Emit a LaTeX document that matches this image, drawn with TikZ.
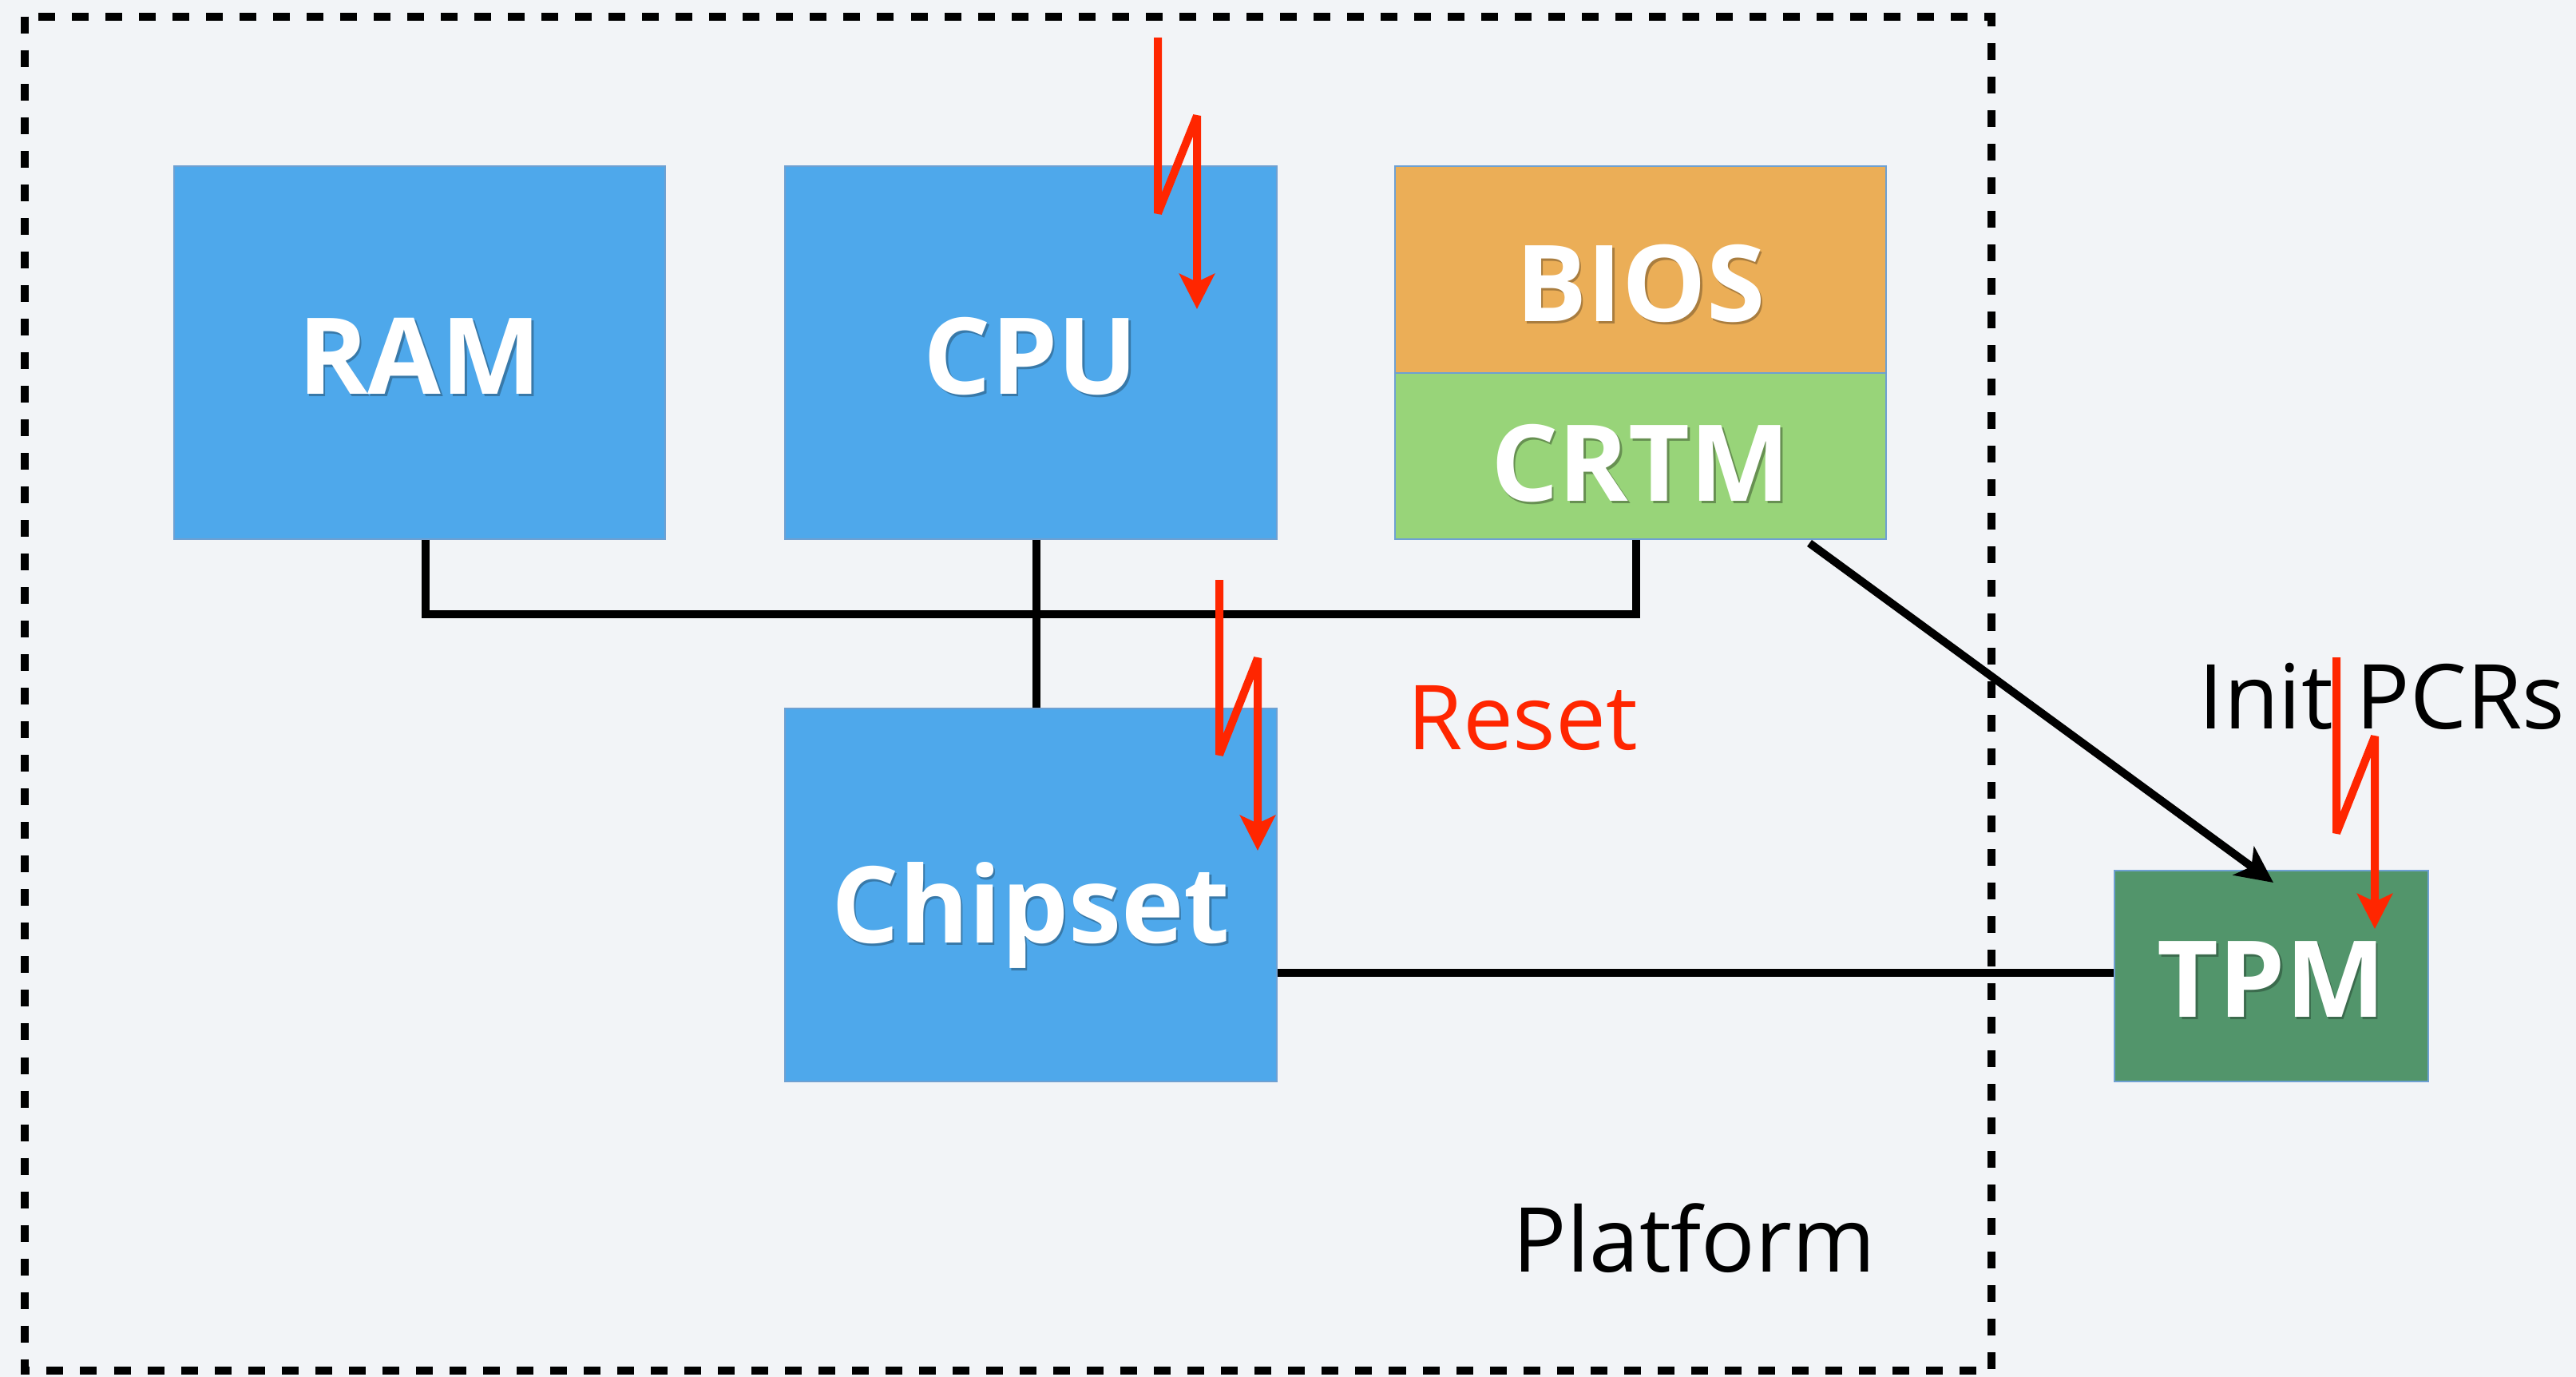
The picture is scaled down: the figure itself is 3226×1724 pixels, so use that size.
\documentclass[tikz,border=0pt]{standalone}
\usepackage{fontspec}
\setmainfont{Open Sans}
\usetikzlibrary{arrows.meta,calc}
\definecolor{bgc}{RGB}{242,244,247}
\definecolor{boxblue}{RGB}{78,168,235}
\definecolor{biosor}{RGB}{235,174,87}
\definecolor{crtmgr}{RGB}{152,212,121}
\definecolor{tpmgr}{RGB}{82,149,107}
\definecolor{boltred}{RGB}{255,38,0}
\definecolor{edgeblue}{RGB}{110,160,210}
\newcommand\shtxt[2]{\makebox[0pt][l]{\kern0.025cm\raisebox{-0.03cm}{\textcolor{#1}{#2}}}#2}
\tikzset{
  hwbox/.style={rectangle, draw=edgeblue, line width=0.015cm, inner sep=0pt,
    text=white, font=\fontsize{37.8pt}{40pt}\selectfont\bfseries,
    text depth=0pt},
  plain/.style={inner sep=0pt, font=\fontsize{31.9pt}{34pt}\selectfont, anchor=base west},
  wire/.style={line width=0.1cm, black},
  bolt/.style={line width=0.1cm, boltred, line join=bevel,
    -{Stealth[length=0.44cm,width=0.44cm,inset=0.1cm]}},
  platformbox/.style={line width=0.1cm, black, dash pattern=on 0.21cm off 0.21cm}
}
\begin{document}
\begin{tikzpicture}[x=0.01cm,y=-0.01cm]
\useasboundingbox[fill=bgc] (0,0) rectangle (3226,1724);
% platform boundary
\draw[platformbox] (30.7,20.7) rectangle (2494,1716);
% boxes
\node[hwbox, fill=boxblue, minimum width=6.15cm, minimum height=4.67cm, text height=1.03cm] (ram) at (525.5,441.5) {\shtxt{boxblue!72!black}{RAM}};
\node[hwbox, fill=boxblue, minimum width=6.16cm, minimum height=4.67cm, text height=1.03cm] (cpu) at (1291,441.5) {\shtxt{boxblue!72!black}{CPU}};
\node[hwbox, fill=biosor, minimum width=6.15cm, minimum height=2.59cm, text height=1.30cm] (bios) at (2054.5,337.5) {\shtxt{biosor!72!black}{BIOS}};
\node[hwbox, fill=crtmgr, minimum width=6.15cm, minimum height=2.08cm, text height=1.13cm] (crtm) at (2054.5,571) {\shtxt{crtmgr!68!black}{CRTM}};
\node[hwbox, fill=boxblue, minimum width=6.16cm, minimum height=4.67cm, text height=1.19cm] (chipset) at (1291,1120.5) {\shtxt{boxblue!72!black}{Chipset}};
\node[hwbox, fill=tpmgr, minimum width=3.93cm, minimum height=2.64cm, text height=1.03cm] (tpm) at (2844.5,1222) {\shtxt{tpmgr!72!black}{TPM}};
% labels
\node[plain, text=boltred] (reset) at (1762,938) {Reset};
\node[plain, text=black] (initpcr) at (2753,912) {Init PCRs};
\node[plain, text=black] (platform) at (1894,1592) {Platform};
% bus
\coordinate (busl) at (533,769);
\coordinate (busr) at (2049,769);
\coordinate (cpux) at (1298,0);
\coordinate (tpmy) at (0,1218);
\draw[wire] (ram.south -| busl) -- (busl) -- (busr) -- (crtm.south -| busr);
\draw[wire] (cpu.south -| cpux) -- (chipset.north -| cpux);
\draw[wire] (chipset.east |- tpmy) -- (tpm.west |- tpmy);
\coordinate (crtmout) at (2266,680);
\coordinate (tpmin) at (2847,1105);
\draw[wire, -{Stealth[length=0.46cm,width=0.44cm,inset=0.12cm]}] (crtmout) -- (tpmin);
% reset bolts
\coordinate (a1) at (1450,47);
\coordinate (a2) at (1450,267);
\coordinate (a3) at (1499,145);
\coordinate (a4) at (1499,387);
\draw[bolt] (a1) -- (a2) -- (a3) -- (a4);
\coordinate (c1) at (1527,726);
\coordinate (c2) at (1527,945);
\coordinate (c3) at (1575,824);
\coordinate (c4) at (1575,1065);
\draw[bolt] (c1) -- (c2) -- (c3) -- (c4);
\coordinate (t1) at (2926,823);
\coordinate (t2) at (2926,1043);
\coordinate (t3) at (2974,922);
\coordinate (t4) at (2974,1163);
\draw[bolt] (t1) -- (t2) -- (t3) -- (t4);
\end{tikzpicture}
\end{document}
